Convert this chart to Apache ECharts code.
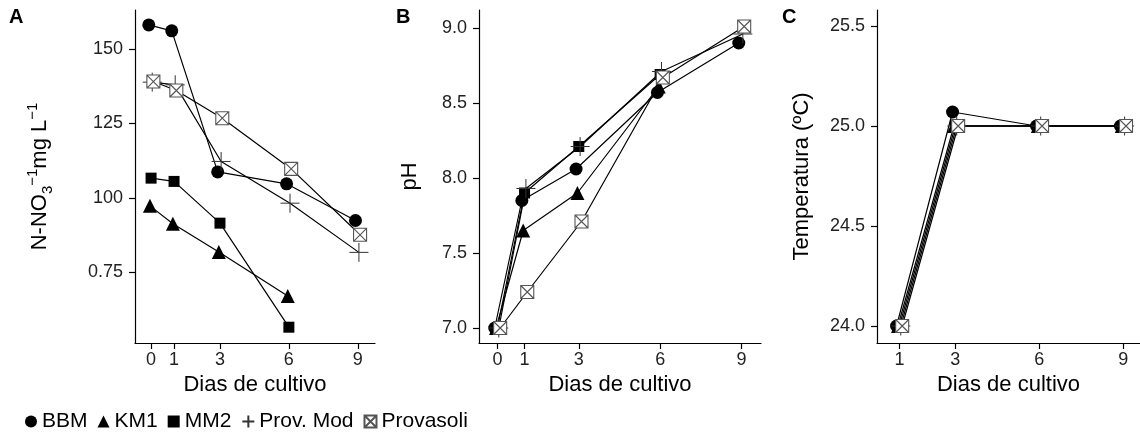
<!DOCTYPE html>
<html>
<head>
<meta charset="utf-8">
<title>Medios de cultivo</title>
<script src="https://cdn.jsdelivr.net/npm/echarts@6/dist/echarts.min.js"></script>
<style>
    html, body { margin: 0; padding: 0; background: #fff; }
    #js-chart { width: 1140px; height: 439px; }
</style>
</head>
<body>
<div id="js-chart"></div>
<script>
var medios = ["BBM", "KM1", "MM2", "Prov. Mod", "Provasoli"];
var diasAB = [0, 1, 3, 6, 9];
var diasC = [1, 3, 6, 9];

//A: N-NO3
var nitratoBBM = [158, 156, 108.7, 104.7, 92.4];
var nitratoKM1 = [97.3, 91.3, 81.8, 67.1];
var nitratoMM2 = [106.6, 105.5, 91.5, 56.6];
var nitratoProvMod = [138.8, 137.9, 112.2, 98.2, 81.7];
var nitratoProvasoli = [139, 136, 126.7, 109.7, 87.6];

//B: pH
var phBBM = [7.0, 7.85, 8.06, 8.57, 8.9];
var phKM1 = [7.0, 7.65, 7.9, 8.61];
var phMM2 = [7.0, 7.9, 8.21, 8.69];
var phProvMod = [7.0, 7.93, 8.21, 8.71, 8.96];
var phProvasoli = [7.0, 7.24, 7.71, 8.67, 9.01];

//C: temperatura
var tempBBM = [24, 25.07, 25, 25];
var tempKM1 = [24, 25, 25, 25];
var tempMM2 = [24, 25, 25, 25];
var tempProvMod = [24, 25, 25, 25];
var tempProvasoli = [24, 25, 25, 25];

var ticksNitrato = [75, 100, 125, 150];
var ticksPH = [7, 7.5, 8, 8.5, 9];
var ticksTemp = [24, 24.5, 25, 25.5];

var FONT = "Liberation Sans";
var PLUS = "path://M0,10L20,10M10,0L10,20";
var BOXX = "path://M0,0L20,0L20,20L0,20Z M0,0L20,20 M20,0L0,20";

var chart = {
    init: function () {
        var me = this;
        me.el = document.getElementById('js-chart');
        me.dodge = [-0.1, -0.05, 0, 0.05, 0.1];
        me.estilos = [
            { symbol: 'circle', size: 13, item: { color: '#000' } },
            { symbol: 'triangle', size: 14, item: { color: '#000' } },
            { symbol: 'rect', size: 11, item: { color: '#000' } },
            { symbol: PLUS, size: 19, item: { color: 'rgba(0,0,0,0)', borderColor: '#333', borderWidth: 1 } },
            { symbol: BOXX, size: 13, item: { color: '#fff', borderColor: '#555', borderWidth: 1.1 } }
        ];
        me.render();
    },
    eje: function (extra) {
        var base = {
            type: 'value',
            splitLine: { show: false },
            axisLine: { show: true, onZero: false, lineStyle: { color: '#000', width: 1.2 } },
            nameLocation: 'middle',
            nameTextStyle: { color: '#000', fontSize: 22, fontFamily: FONT }
        };
        return Object.assign(base, extra);
    },
    marcas: function (ticks, margin, formatter) {
        return {
            axisLabel: { color: '#222', fontSize: 18, fontFamily: FONT, margin: margin, customValues: ticks, formatter: formatter },
            axisTick: { show: true, length: 6, lineStyle: { color: '#000', width: 1.2 }, customValues: ticks }
        };
    },
    serie: function (k, grid, dias, valores) {
        var me = this;
        var est = me.estilos[k];
        var data = [];
        for (var i = 0; i < valores.length; i++) {
            data.push([dias[i] + me.dodge[k], valores[i]]);
        }
        return {
            name: medios[k],
            type: 'line',
            xAxisIndex: grid,
            yAxisIndex: grid,
            symbol: est.symbol,
            symbolSize: est.size,
            itemStyle: est.item,
            lineStyle: { color: '#000', width: 1.2 },
            data: data
        };
    },
    render: function () {
        var me = this;
        var myChart = echarts.init(me.el);
        var paneles = [
            [diasAB, [nitratoBBM, nitratoKM1, nitratoMM2, nitratoProvMod, nitratoProvasoli]],
            [diasAB, [phBBM, phKM1, phMM2, phProvMod, phProvasoli]],
            [diasC, [tempBBM, tempKM1, tempMM2, tempProvMod, tempProvasoli]]
        ];
        var series = [];
        for (var g = 0; g < paneles.length; g++) {
            for (var k = 0; k < medios.length; k++) {
                series.push(me.serie(k, g, paneles[g][0], paneles[g][1][k]));
            }
        }
        var ejeX = function (grid, min, max, ticks) {
            return me.eje(Object.assign({
                gridIndex: grid, min: min, max: max,
                name: 'Dias de cultivo', nameGap: 31
            }, me.marcas(ticks, 8)));
        };
        var ejeY = function (grid, min, max, ticks, formatter, extra) {
            return me.eje(Object.assign({ gridIndex: grid, min: min, max: max }, me.marcas(ticks, 12, formatter), extra));
        };
        var unDecimal = function (v) { return v.toFixed(1); };

        var option = {
            animation: false,
            grid: [
                { left: 135, top: 10, width: 240, height: 333 },
                { left: 479, top: 10, width: 282, height: 333 },
                { left: 877, top: 10, width: 263, height: 333 }
            ],
            xAxis: [
                ejeX(0, -0.7, 9.75, diasAB),
                ejeX(1, -0.68, 9.72, diasAB),
                ejeX(2, 0.2, 9.6, diasC)
            ],
            yAxis: [
                ejeY(0, 51.3, 163, ticksNitrato, function (v) { return v === 75 ? '0.75' : String(v); }, {
                    name: '{n|N-NO}{sub|3}{sup|\u22121}{n|mg L}{sup|\u22121}',
                    nameGap: 80,
                    nameTextStyle: {
                        color: '#000', fontFamily: FONT,
                        rich: {
                            n: { fontSize: 22, fontFamily: FONT, color: '#000', lineHeight: 30 },
                            sub: { fontSize: 15, fontFamily: FONT, color: '#000', verticalAlign: 'bottom', lineHeight: 30 },
                            sup: { fontSize: 15, fontFamily: FONT, color: '#000', verticalAlign: 'top', lineHeight: 30 }
                        }
                    }
                }),
                ejeY(1, 6.9, 9.12, ticksPH, unDecimal, { name: 'pH', nameGap: 58 }),
                ejeY(2, 23.915, 25.58, ticksTemp, unDecimal, { name: 'Temperatura (\u00baC)', nameGap: 64 })
            ],
            legend: {
                left: 20,
                top: 406,
                itemWidth: 12,
                itemHeight: 12,
                itemGap: 10,
                textStyle: { color: '#000', fontSize: 21, fontFamily: FONT },
                data: medios.map(function (n, k) {
                    return { name: n, icon: me.estilos[k].symbol };
                })
            },
            graphic: [
                { type: 'text', left: 9, top: 7, style: { text: 'A', fontSize: 20, fontWeight: 'bold', fontFamily: FONT, fill: '#000' } },
                { type: 'text', left: 396, top: 7, style: { text: 'B', fontSize: 20, fontWeight: 'bold', fontFamily: FONT, fill: '#000' } },
                { type: 'text', left: 782, top: 7, style: { text: 'C', fontSize: 20, fontWeight: 'bold', fontFamily: FONT, fill: '#000' } }
            ],
            series: series
        };
        myChart.setOption(option);
    }
};
chart.init();
</script>
</body>
</html>
